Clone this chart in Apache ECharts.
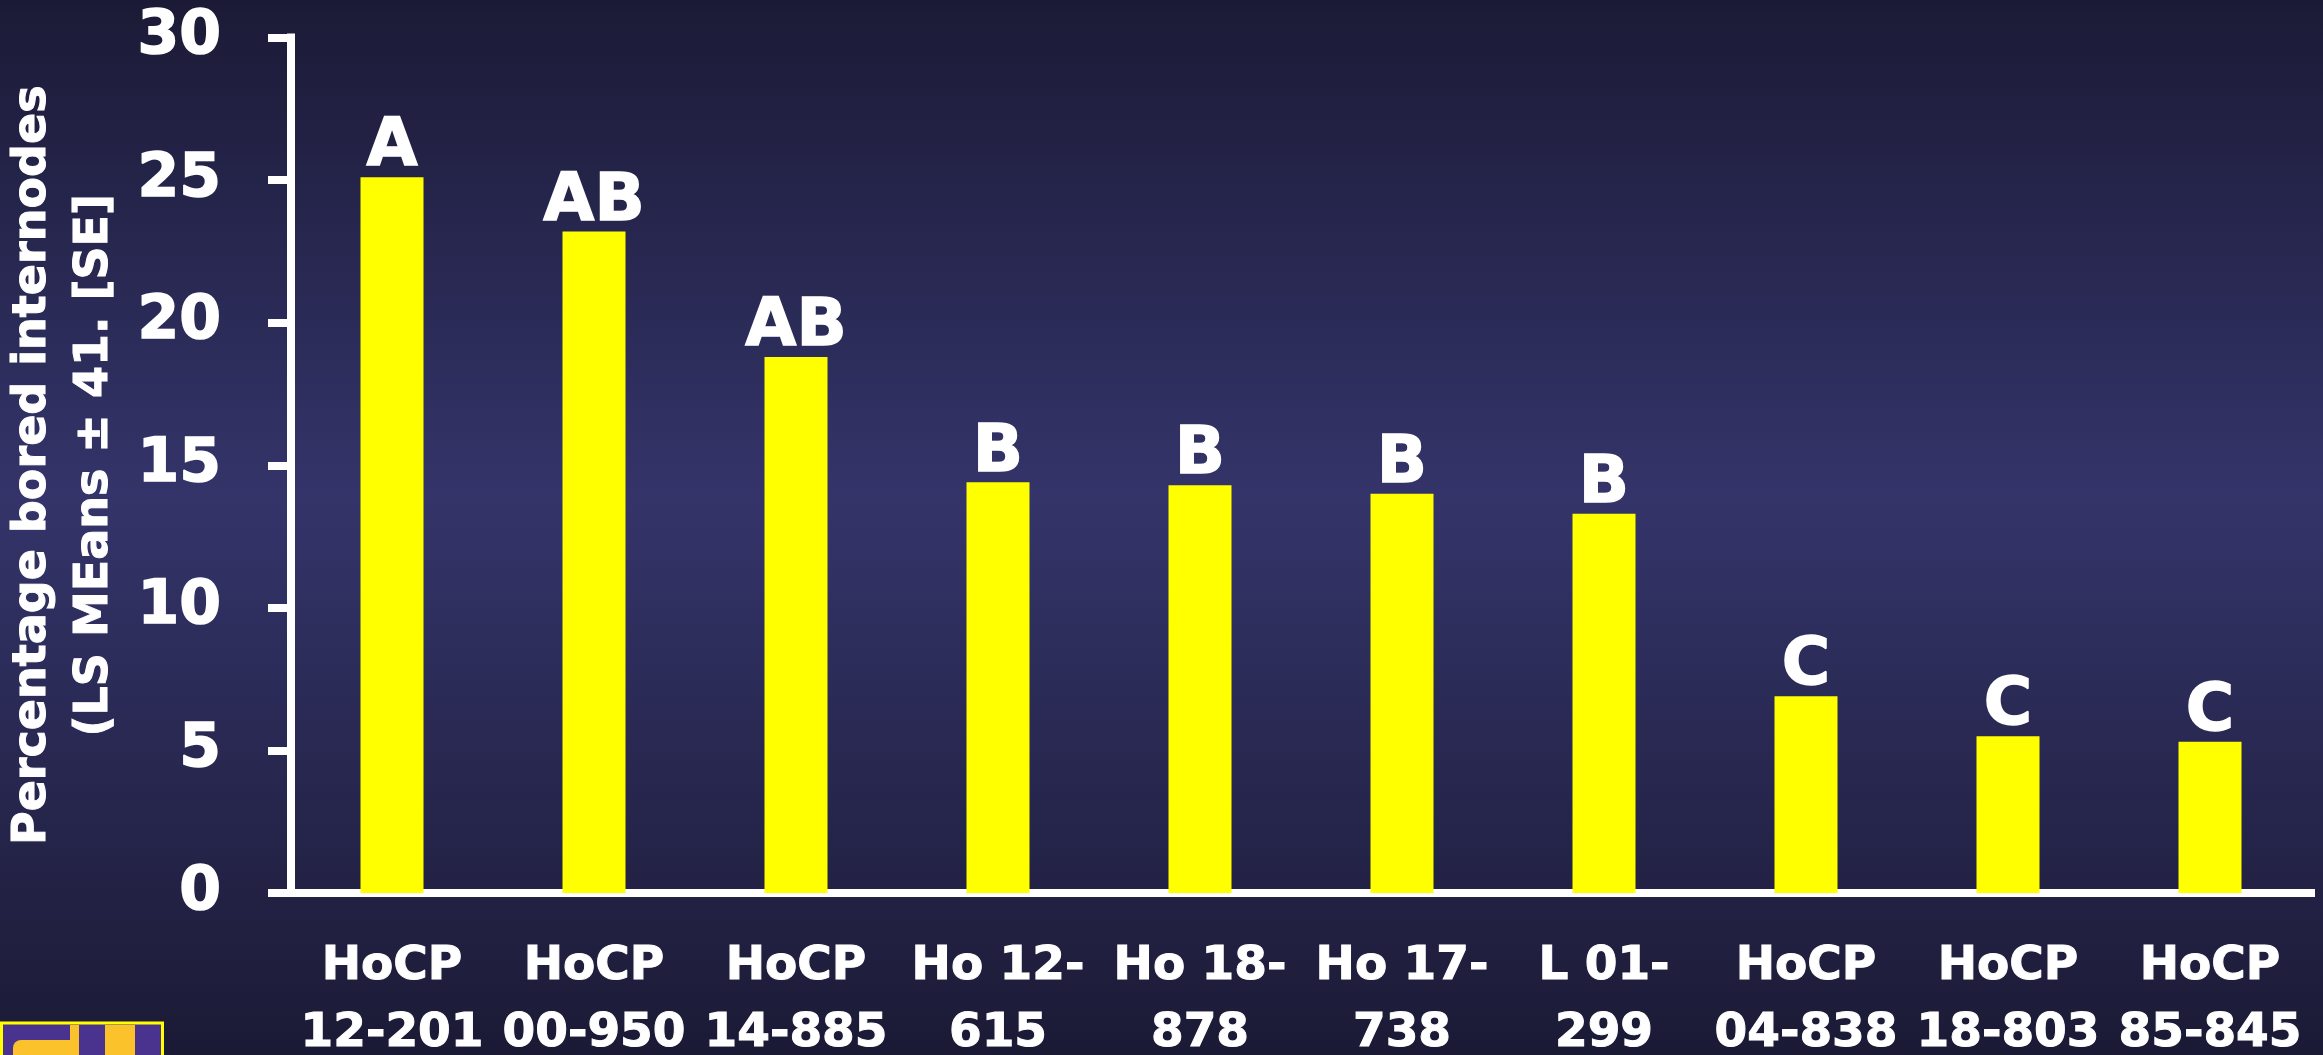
<!DOCTYPE html>
<html>
<head>
<meta charset="utf-8">
<title>Percentage bored internodes</title>
<script src="https://cdn.jsdelivr.net/npm/echarts@6/dist/echarts.min.js"></script>
<style>
  html, body { margin: 0; padding: 0; background: #1c1b3a; }
  #chart { width: 2323px; height: 1055px; }
</style>
</head>
<body>
<div id="chart"></div>
<script>
// cultivars on the x axis
const categories = ['HoCP\n12-201', 'HoCP\n00-950', 'HoCP\n14-885', 'Ho 12-\n615', 'Ho 18-\n878',
  'Ho 17-\n738', 'L 01-\n299', 'HoCP\n04-838', 'HoCP\n18-803', 'HoCP\n85-845'];
// LS means, % bored internodes
const values = [25.1, 23.2, 18.8, 14.4, 14.3, 14.0, 13.3, 6.9, 5.5, 5.3];
// mean separation letters
const letters = ['A', 'AB', 'AB', 'B', 'B', 'B', 'B', 'C', 'C', 'C'];
// y ticks
const yMin = 0;
const yMax = 30;
const yStep = 5;

const font = 'DejaVu Sans';
const myChart = echarts.init(document.getElementById('chart'));

// white outline makes the bold font a bit heavier, like the slide text
const heavy = { textBorderColor: '#ffffff', textBorderWidth: 1.5 };

const option = {
  animation: false,
  backgroundColor: new echarts.graphic.LinearGradient(0, 0, 0, 1, [
    { offset: 0, color: '#1b1a36' },
    { offset: 0.47, color: '#34346a' },
    { offset: 1, color: '#1b1a35' }
  ]),
  grid: { left: 291, right: 12, top: 37.5, bottom: 162, outerBoundsMode: 'none', containLabel: false },
  xAxis: {
    type: 'category',
    data: categories,
    axisLine: { lineStyle: { color: '#ffffff', width: 8, cap: 'square' } },
    axisTick: { show: false },
    axisLabel: {
      color: '#ffffff',
      fontFamily: font,
      fontWeight: 'bold',
      fontSize: 47,
      lineHeight: 67,
      margin: 40,
      interval: 0,
      textBorderColor: '#ffffff',
      textBorderWidth: 1
    }
  },
  yAxis: {
    type: 'value',
    min: yMin,
    max: yMax,
    interval: yStep,
    name: 'Percentage bored internodes\n(LS MEans ± 41. [SE]',
    nameLocation: 'middle',
    nameGap: 153,
    nameTextStyle: {
      color: '#ffffff',
      fontFamily: font,
      fontWeight: 'bold',
      fontSize: 46,
      lineHeight: 62,
      textBorderColor: '#ffffff',
      textBorderWidth: 1
    },
    axisLine: { show: true, lineStyle: { color: '#ffffff', width: 8, cap: 'square' } },
    axisTick: { show: true, length: 23, lineStyle: { color: '#ffffff', width: 8 } },
    splitLine: { show: false },
    axisLabel: Object.assign({
      color: '#ffffff',
      fontFamily: font,
      fontWeight: 'bold',
      fontSize: 60,
      margin: 70
    }, heavy)
  },
  series: [
    {
      type: 'bar',
      data: values,
      barWidth: 63,
      itemStyle: { color: '#ffff00' },
      label: Object.assign({
        show: true,
        position: 'top',
        distance: -4,
        color: '#ffffff',
        fontFamily: font,
        fontWeight: 'bold',
        fontSize: 66,
        formatter: p => letters[p.dataIndex]
      }, heavy)
    }
  ],
  // corner of the logo in the bottom left
  graphic: [
    { type: 'rect', shape: { x: 1.5, y: 1023, width: 161, height: 40 },
      style: { fill: '#4a338f', stroke: '#ffff00', lineWidth: 3 } },
    { type: 'rect', shape: { x: 13, y: 1040, width: 62, height: 20, r: [8, 0, 0, 0] }, style: { fill: '#fcc22c' } },
    { type: 'rect', shape: { x: 70, y: 1025, width: 9, height: 35 }, style: { fill: '#fcc22c' } },
    { type: 'rect', shape: { x: 105, y: 1025, width: 30, height: 35 }, style: { fill: '#fcc22c' } }
  ]
};

myChart.setOption(option);
</script>
</body>
</html>
